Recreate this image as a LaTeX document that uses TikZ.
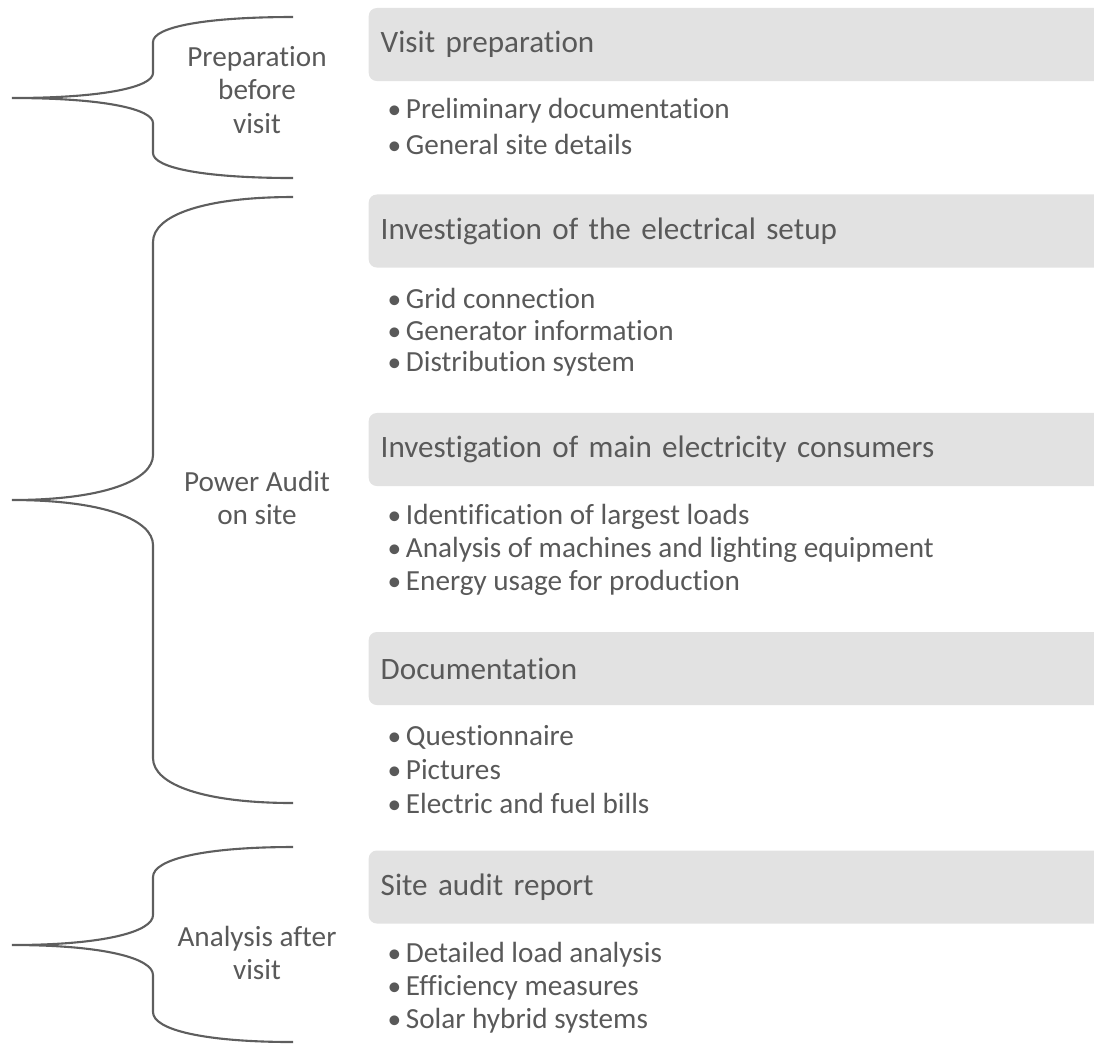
\documentclass[tikz,border=0pt]{standalone}
\usepackage{fontspec}
\setmainfont{Carlito}[Ligatures=NoCommon]
\usetikzlibrary{positioning}
\definecolor{inkgray}{HTML}{595959}
\definecolor{linegray}{HTML}{5E5E5E}
\definecolor{headgray}{HTML}{E2E2E2}
% curly brace: top end, tip, bottom end, curl length
\newcommand{\sbrace}[4]{
\draw [linegray, line width=0.6pt] (293,#1) .. controls (205,#1) and (153,#1+0.4*#4) .. (153,#1+#4)
  -- (153,#2-#4) .. controls (153,#2-0.45*#4) and (105,#2) .. (12,#2)
  .. controls (105,#2) and (153,#2+0.45*#4) .. (153,#2+#4)
  -- (153,#3-#4) .. controls (153,#3-0.4*#4) and (205,#3) .. (293,#3);
}
\newcommand{\blt}{{\fontsize{7.8}{7.8}\selectfont•}\hspace{1.3pt}}
\tikzset{
  head/.style = {fill=headgray, rounded corners=2.3pt, anchor=west, inner xsep=0.12cm,
                 minimum height=0.73cm, text width=7.3cm, align=left, text=inkgray,
                 font=\fontsize{8.85}{11}\selectfont},
  item/.style = {anchor=west, inner sep=0pt, text=inkgray, font=\fontsize{8.3}{10}\selectfont},
  phase/.style = {align=center, inner sep=0pt, text=inkgray, font=\fontsize{8.3}{9.4}\selectfont}
}

\begin{document}
\begin{tikzpicture}[x=0.01cm, y=-0.01cm]
\useasboundingbox (0,0) rectangle (1094,1044);
\clip (0,0) rectangle (1094,1044);

\sbrace{17}{98}{178}{25};
\sbrace{197}{500}{803}{45};
\sbrace{847}{945}{1042}{30};

\node [phase] (before) at (257,90) {Preparation\\before\\visit};
\node [phase] (onsite) at (257,498) {Power Audit\\on site};
\node [phase] (after) at (257,953) {Analysis after\\visit};

\node [head] (prep) at (368,44.5) {Visit preparation};
\node [head] (setup) at (368,231) {Investigation of the electrical setup};
\node [head] (cons) at (368,449.5) {Investigation of main electricity consumers};
\node [head] (docu) at (368,668.5) {Documentation};
\node [head] (rep) at (368,887) {Site audit report};

\foreach \txt [count=\i] in {Preliminary documentation, General site details}
	\node [item] (prep-\i) at (387, 78+33*\i) {\blt\txt};
\foreach \txt [count=\i] in {Grid connection, Generator information, Distribution system}
	\node [item] (setup-\i) at (387, 265+33*\i) {\blt\txt};
\foreach \txt [count=\i] in {Identification of largest loads,
	Analysis of machines and lighting equipment, Energy usage for production}
	\node [item] (cons-\i) at (387, 484+33*\i) {\blt\txt};
\foreach \txt [count=\i] in {Questionnaire, Pictures, Electric and fuel bills}
	\node [item] (docu-\i) at (387, 704+33*\i) {\blt\txt};
\foreach \txt [count=\i] in {Detailed load analysis, Efficiency measures, Solar hybrid systems}
	\node [item] (rep-\i) at (387, 922+33*\i) {\blt\txt};
\end{tikzpicture}
\end{document}
